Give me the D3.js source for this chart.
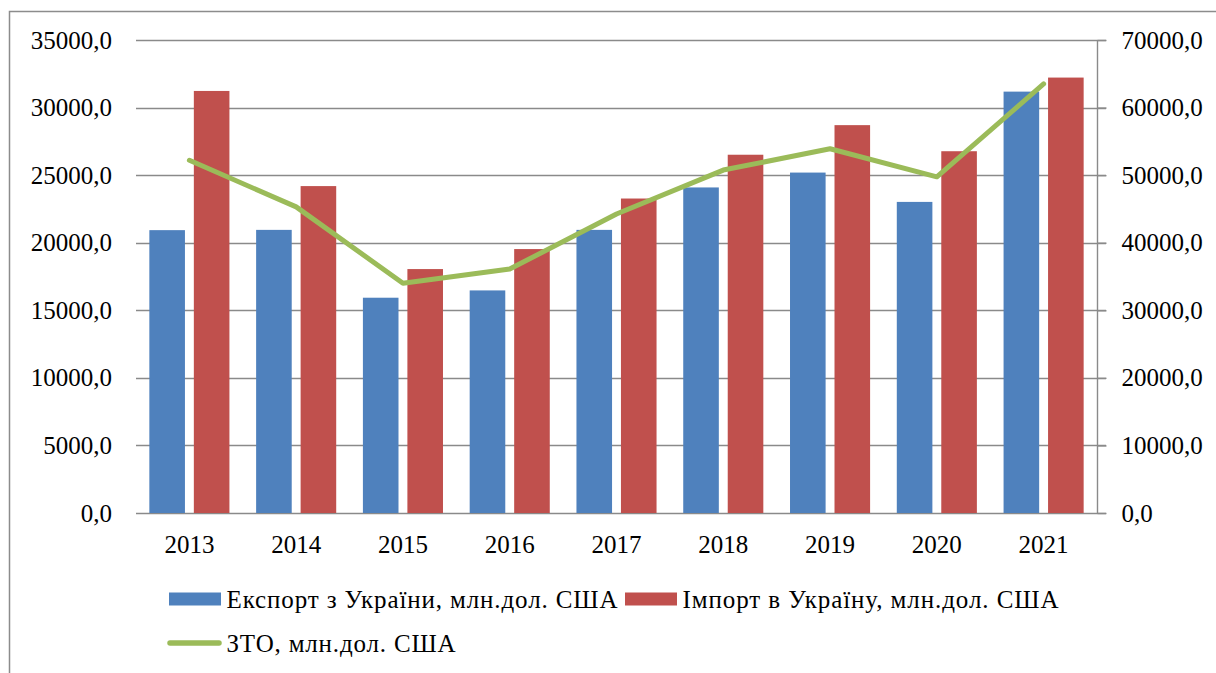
<!DOCTYPE html>
<html><head><meta charset="utf-8">
<script src="https://cdn.jsdelivr.net/npm/d3@7"></script>
</head><body style="margin:0">
<svg id="s" width="1216" height="673" style="display:block;font-family:'Liberation Serif'"></svg>
<script>
const years = ["2013","2014","2015","2016","2017","2018","2019","2020","2021"];
const exportVals = [20930, 20950, 15930, 16470, 20950, 24090, 25190, 23020, 31180];
const importVals = [31230, 24190, 18050, 19530, 23270, 26510, 28700, 26770, 32220];
const wtoVals = [52200, 45300, 34000, 36100, 44250, 50750, 53900, 49750, 63500];
const leftTicks = [0, 5000, 10000, 15000, 20000, 25000, 30000, 35000];
const rightTicks = [0, 10000, 20000, 30000, 40000, 50000, 60000, 70000];
const seriesNames = ["Експорт з України, млн.дол. США", "Імпорт в Україну, млн.дол. США", "ЗТО, млн.дол. США"];
const colors = ["#4F81BD", "#C0504D", "#9BBB59"];

const svg = d3.select("#s");
const grid = "#8a8a8a";

function styleText(sel) {
  sel.style("font-family", "Liberation Serif").style("font-size", "25px");
}

// outer border
svg.append("path").attr("d", "M9.5,700 L9.5,11.5 L1240,11.5")
  .attr("fill", "none").attr("stroke", "#8c8c8c").attr("stroke-width", 1.5);

const x0 = 136, x1 = 1097, yTop = 40, yBot = 513;
const x = d3.scaleBand().domain(years).range([x0, x1]).paddingInner(0.25).paddingOuter(0.125);
const xs = d3.scaleBand().domain([0, 1]).range([0, x.bandwidth()]).paddingInner(0.2);
const yL = d3.scaleLinear().domain([0, 35000]).range([yBot, yTop]);
const yR = d3.scaleLinear().domain([0, 70000]).range([yBot, yTop]);
const fmt = d => d3.format(".1f")(d).replace(".", ",");

// gridlines
svg.append("g").selectAll("line").data(leftTicks).join("line")
  .attr("x1", x0).attr("x2", x1 + 9)
  .attr("y1", d => Math.round(yL(d)) + 0.5).attr("y2", d => Math.round(yL(d)) + 0.5)
  .attr("stroke", grid).attr("stroke-width", 1.4);

// left axis labels
const gL = svg.append("g").attr("transform", `translate(${x0 - 24},0)`)
  .call(d3.axisLeft(yL).tickValues(leftTicks).tickFormat(fmt).tickSize(0).tickPadding(0));
gL.attr("font-family", "Liberation Serif").attr("font-size", 25);
gL.select(".domain").remove();
gL.selectAll("text").call(styleText);

// right axis
const gR = svg.append("g").attr("transform", `translate(${x1 + 0.5},0)`)
  .call(d3.axisRight(yR).tickValues(rightTicks).tickFormat(fmt).tickSize(9).tickPadding(15));
gR.attr("font-family", "Liberation Serif").attr("font-size", 25);
gR.select(".domain").attr("stroke", grid).attr("stroke-width", 1.4).attr("d", `M0,${yTop}V${yBot}`);
gR.selectAll(".tick line").attr("stroke", grid).attr("stroke-width", 1.4);
gR.selectAll("text").call(styleText);

// bars
const data = years.map((y, i) => ({ year: y, vals: [exportVals[i], importVals[i]] }));
svg.append("g").selectAll("g").data(data).join("g")
  .attr("transform", d => `translate(${x(d.year)},0)`)
  .selectAll("rect").data(d => d.vals.map((v, k) => ({ v, k }))).join("rect")
  .attr("x", d => xs(d.k)).attr("width", xs.bandwidth())
  .attr("y", d => yL(d.v)).attr("height", d => yBot - yL(d.v))
  .attr("fill", d => colors[d.k]);

// x axis labels
const gX = svg.append("g").attr("transform", `translate(0,${yBot})`)
  .call(d3.axisBottom(x).tickSize(0).tickPadding(0));
gX.attr("font-family", "Liberation Serif").attr("font-size", 25);
gX.select(".domain").remove();
gX.selectAll("text").call(styleText).attr("dy", null).attr("y", 40);

// line
const line = d3.line().x((d, i) => x(years[i]) + x.bandwidth() / 2).y(d => yR(d));
svg.append("path").datum(wtoVals).attr("d", line)
  .attr("fill", "none").attr("stroke", colors[2]).attr("stroke-width", 5)
  .attr("stroke-linejoin", "round").attr("stroke-linecap", "round");

// legend
const lg = svg.append("g");
const legendItems = [
  { name: seriesNames[0], c: colors[0], type: "rect", x: 169, y: 599, w: 391 },
  { name: seriesNames[1], c: colors[1], type: "rect", x: 625, y: 599, w: 376 },
  { name: seriesNames[2], c: colors[2], type: "line", x: 169, y: 643, w: 229 }
];
legendItems.forEach(it => {
  if (it.type === "rect") {
    lg.append("rect").attr("x", it.x).attr("y", it.y - 6.5).attr("width", 52).attr("height", 13).attr("fill", it.c);
  } else {
    lg.append("line").attr("x1", it.x + 1).attr("x2", it.x + 50).attr("y1", it.y).attr("y2", it.y)
      .attr("stroke", it.c).attr("stroke-width", 5.5).attr("stroke-linecap", "round");
  }
  lg.append("text").attr("x", it.x + 57.5).attr("y", it.y + 8.5)
    .attr("textLength", it.w).attr("lengthAdjust", "spacing")
    .call(styleText).text(it.name);
});
</script>
</body></html>
